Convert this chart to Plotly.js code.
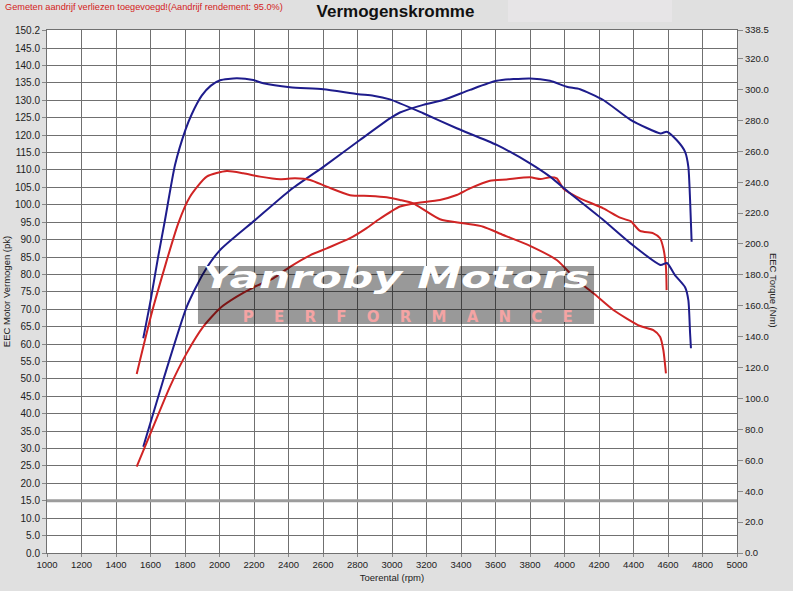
<!DOCTYPE html>
<html><head><meta charset="utf-8">
<script src="https://cdn.plot.ly/plotly-3.0.1.min.js"></script>
<style>html,body{margin:0;padding:0;background:#e0e0e0;} #chart{width:793px;height:591px;}</style>
</head><body><div id="chart"></div>
<script>
// ---- data ----
const bluePowerRpm = [1558,1674,1810,1906,2003,2206,2409,2602,2814,2988,3046,3181,3297,3452,3607,3800,3916,4013,4090,4225,4383,4557,4593,4650,4699,4718,4728,4737];
const bluePowerPk  = [30.5,49.7,70.7,80.3,87.0,95.6,104.2,110.9,118.6,124.8,126.5,128.7,130.1,133.0,135.6,136.3,135.6,133.9,133.2,130.1,124.4,120.5,121.0,118.6,115.2,110.9,101.4,89.4];

const blueTorqueRpm = [1558,1601,1643,1684,1742,1803,1839,1897,1950,2003,2100,2196,2254,2409,2602,2805,2892,2988,3181,3375,3607,3800,3916,4032,4225,4383,4557,4594,4640,4699,4718,4728,4733];
const blueTorqueNm  = [139.0,163.7,190.9,215.5,251.1,274.0,284.0,296.0,302.5,306.0,307.2,306.1,304.0,301.4,300.1,296.9,296.0,293.6,284.6,274.9,264.1,252.2,243.6,232.8,215.5,200.4,186.4,187.7,179.9,172.0,163.7,142.2,132.5];

const redPowerRpm = [1520,1616,1713,1810,1906,2003,2100,2206,2312,2409,2525,2622,2757,2853,2921,3046,3123,3278,3375,3452,3568,3665,3800,3860,3916,3955,3993,4071,4225,4322,4383,4438,4515,4554,4573,4588,4592];
const redPowerPk  = [24.8,36.3,47.8,57.4,65.0,70.3,73.6,76.5,78.9,82.2,85.5,87.5,90.4,93.3,95.7,99.5,100.4,101.4,102.8,104.7,106.9,107.3,107.9,107.4,107.9,107.6,104.7,102.3,99.0,96.3,95.3,92.5,91.8,90.4,87.5,82.2,75.5];

const redTorqueRpm = [1520,1616,1761,1829,1926,2042,2138,2235,2351,2438,2525,2622,2757,2872,2969,3046,3123,3278,3413,3529,3645,3800,3955,4071,4168,4283,4438,4515,4554,4573,4588];
const redTorqueNm  = [115.9,159.0,213.4,230.6,243.6,247.2,245.8,243.6,241.9,242.5,241.4,237.1,231.6,231.1,230.2,228.5,226.3,216.0,213.4,211.2,205.8,198.8,189.6,176.7,168.1,157.3,146.9,144.3,140.0,131.4,116.3];

const xTickVals = [1000,1200,1400,1600,1800,2000,2200,2400,2600,2800,3000,3200,3400,3600,3800,4000,4200,4400,4600,4800,5000];
const leftTickVals = [0,5,10,15,20,25,30,35,40,45,50,55,60,65,70,75,80,85,90,95,100,105,110,115,120,125,130,135,140,145,150.2];
const leftTickText = ["0.0","5.0","10.0","15.0","20.0","25.0","30.0","35.0","40.0","45.0","50.0","55.0","60.0","65.0","70.0","75.0","80.0","85.0","90.0","95.0","100.0","105.0","110.0","115.0","120.0","125.0","130.0","135.0","140.0","145.0","150.2"];
const rightTickVals = [0,20,40,60,80,100,120,140,160,180,200,220,240,260,280,300,320,338.5];
const rightTickText = ["0.0","20.0","40.0","60.0","80.0","100.0","120.0","140.0","160.0","180.0","200.0","220.0","240.0","260.0","280.0","300.0","320.0","338.5"];
const refLinePk = 15;

const FONT = 'Liberation Sans, Arial, sans-serif';
const BLUE = '#1e1c8c';
const RED = '#d02424';
const GRID = '#707070';

const lineStyle = (c) => ({color: c, width: 2, shape: 'spline', smoothing: 0.6});
const traces = [
  {x: bluePowerRpm, y: bluePowerPk, yaxis: 'y', name: 'Vermogen (pk)', mode: 'lines', line: lineStyle(BLUE)},
  {x: blueTorqueRpm, y: blueTorqueNm, yaxis: 'y2', name: 'Koppel (Nm)', mode: 'lines', line: lineStyle(BLUE)},
  {x: redPowerRpm, y: redPowerPk, yaxis: 'y', name: 'Vermogen 2 (pk)', mode: 'lines', line: lineStyle(RED)},
  {x: redTorqueRpm, y: redTorqueNm, yaxis: 'y2', name: 'Koppel 2 (Nm)', mode: 'lines', line: lineStyle(RED)}
];

const layout = {
  width: 793, height: 591,
  paper_bgcolor: '#e0e0e0', plot_bgcolor: '#ffffff',
  margin: {l: 47, r: 56, t: 30, b: 38, pad: 0},
  showlegend: false,
  font: {family: FONT, color: '#222'},
  title: {text: 'Vermogenskromme', font: {family: FONT, size: 17, weight: 'bold', color: '#111'},
          xref: 'container', x: 0.4987, y: 0.9805, yanchor: 'middle', xanchor: 'center'},
  xaxis: {range: [1000, 5000], tickvals: xTickVals, showgrid: true, gridcolor: GRID, gridwidth: 1,
          zeroline: false, showline: true, linecolor: GRID, linewidth: 1, mirror: true,
          ticks: 'outside', ticklen: 3, tickcolor: '#888',
          tickfont: {family: FONT, size: 9.5, color: '#222'},
          title: {text: 'Toerental (rpm)', font: {family: FONT, size: 9.5, color: '#222'}, standoff: 4}},
  yaxis: {range: [0, 150.2], tickvals: leftTickVals, ticktext: leftTickText, showgrid: true, gridcolor: GRID, gridwidth: 1,
          zeroline: false, showline: true, linecolor: GRID, linewidth: 1, mirror: true,
          ticks: 'outside', ticklen: 4, tickcolor: '#888',
          tickfont: {family: FONT, size: 10, color: '#222'},
          title: {text: 'EEC Motor Vermogen (pk)', font: {family: FONT, size: 9.5, color: '#222'}, standoff: 2}},
  yaxis2: {range: [0, 338.5], tickvals: rightTickVals, ticktext: rightTickText, overlaying: 'y', side: 'right',
           showgrid: false, zeroline: false, showline: false,
           ticks: 'outside', ticklen: 5, tickcolor: '#888',
           tickfont: {family: FONT, size: 9.5, color: '#222'}},
  shapes: [
    {type: 'rect', xref: 'paper', yref: 'paper', x0: 0.668, x1: 0.9058, y0: 1.0153, y1: 1.06,
     fillcolor: '#e7e5e7', line: {width: 0}, layer: 'below'},
    {type: 'line', xref: 'paper', yref: 'y', x0: 0, x1: 1, y0: refLinePk, y1: refLinePk,
     line: {color: '#9c9c9c', width: 3}, layer: 'above'},
    {type: 'rect', xref: 'paper', yref: 'paper', x0: 0.2188, x1: 0.7928, y0: 0.4379, y1: 0.5488,
     fillcolor: 'rgba(0,0,0,0.40)', line: {width: 0}, layer: 'above'}
  ],
  annotations: [
    {text: 'Gemeten aandrijf verliezen toegevoegd!(Aandrijf rendement: 95.0%)', xref: 'paper', yref: 'paper',
     x: -0.0638, y: 1.044, xanchor: 'left', yanchor: 'middle', showarrow: false,
     font: {family: FONT, size: 9.2, color: '#d42020'}},
    {text: 'EEC Torque (Nm)', xref: 'paper', yref: 'paper', x: 1.0522, y: 0.503, xanchor: 'center', yanchor: 'middle',
     textangle: 90, showarrow: false, font: {family: FONT, size: 9.5, color: '#222'}},
    {text: 'Yanroby Motors', xref: 'paper', yref: 'paper', x: 0.5065, y: 0.5277, xanchor: 'center', yanchor: 'middle',
     showarrow: false, font: {family: 'DejaVu Sans, sans-serif', size: 30, weight: 'bold', style: 'italic', color: '#ffffff'}},
    {text: 'PERFORMANCE', xref: 'paper', yref: 'paper', x: 0.5232, y: 0.4503, xanchor: 'center', yanchor: 'middle',
     showarrow: false, font: {family: 'DejaVu Sans, sans-serif', size: 15, weight: 'bold', color: '#f4a4a4'}}
  ]
};

Plotly.newPlot('chart', traces, layout, {staticPlot: true, displayModeBar: false}).then(function(gd){
  gd.querySelectorAll('.annotation-text').forEach(function(el){
    const t = el.textContent;
    if (t === 'Yanroby Motors') { el.setAttribute('textLength', '387'); el.setAttribute('lengthAdjust', 'spacingAndGlyphs'); }
    if (t === 'PERFORMANCE') { el.setAttribute('textLength', '330'); el.setAttribute('lengthAdjust', 'spacing'); }
  });
});
</script>
</body></html>
